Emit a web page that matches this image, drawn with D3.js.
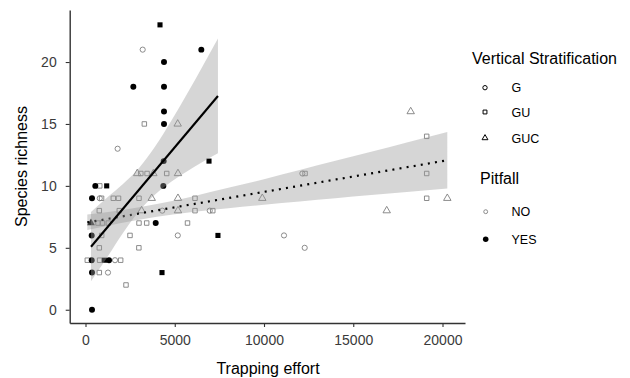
<!DOCTYPE html>
<html><head><meta charset="utf-8">
<script src="https://cdn.jsdelivr.net/npm/d3@7"></script>
<style>body{margin:0;background:#fff}text{font-family:"Liberation Sans",Arial,sans-serif}</style>
</head><body><svg id="c" width="630" height="378"></svg>
<script>
// ---- data ----
const effort   = [3204,1800,800,4300,5170,1653,1260,11120,12280,12150,6960,
                  3296,4550,3100,3450,800,900,1557,1850,2997,6134,773,1893,6134,7130,700,950,1280,2997,3428,5715,907,2493,773,2990,101,790,1970,773,2269,12300,19114,19114,19114,
                  5165,2900,3800,5180,3709,5180,9905,3140,5180,18218,20269,16874,
                  6488,4398,2680,4398,4398,4398,4380,4360,550,364,3933,347,347,1317,364,364,
                  4174,6919,1187,7420,1060,4286,
                  308];
const richness = [21,13,9,8,6,4,3,6,5,11,8,
                  15,11,11,11,10,9,9,9,9,9,8,8,8,8,7,7,7,7,7,7,6,6,5,5,4,4,4,3,2,11,14,11,9,
                  15,11,11,11,9,9,9,8,8,16,9,8,
                  21,20,18,18,16,15,12,10,10,9,7,6,4,4,3,0,
                  23,12,10,6,4,3,
                  7];
const strat    = [].concat(Array(11).fill("G"), Array(33).fill("GU"), Array(12).fill("GUC"),
                           Array(16).fill("G"), Array(6).fill("GU"), Array(1).fill("GUC"));
const pitfall  = [].concat(Array(56).fill("NO"), Array(23).fill("YES"));

const xTicks = [0, 5000, 10000, 15000, 20000];
const yTicks = [0, 5, 10, 15, 20];
const stratLevels = ["G", "GU", "GUC"];
const pitLevels = ["NO", "YES"];

// fitted lines and confidence bands
const noFitX = [101, 20269], noFitY = [7.05, 12.07];
const noBandX  = [101, 2000, 4000, 6000, 8000, 10000, 12000, 14000, 16000, 18000, 20269];
const noBandLo = [6.43, 7.00, 7.50, 7.89, 8.20, 8.48, 8.74, 9.00, 9.26, 9.51, 9.78];
const noBandHi = [7.68, 8.04, 8.54, 9.15, 9.84, 10.54, 11.28, 12.02, 12.76, 13.51, 14.36];
const yesFitX = [308, 7420], yesFitY = [5.09, 17.26];
const yesBandX  = [308, 1200, 2100, 3000, 3900, 4800, 5700, 6600, 7420];
const yesBandLo = [2.3, 4.2, 6.2, 7.95, 9.3, 10.33, 11.19, 11.96, 12.63];
const yesBandHi = [7.9, 9.05, 10.15, 11.45, 13.17, 15.23, 17.45, 19.76, 21.89];

// ---- drawing ----
const svg = d3.select("#c");
const x = d3.scaleLinear().domain([-885, 21260]).range([69.7, 465]);
const y = d3.scaleLinear().domain([-1.07, 24.2]).range([323, 10]);
const symType = d3.scaleOrdinal().domain(stratLevels).range([d3.symbolCircle, d3.symbolSquare, d3.symbolTriangle]);
const colorS = d3.scaleOrdinal().domain(pitLevels).range(["#7f7f7f", "#000000"]);

const pts = effort.map((e,i)=>({e, r: richness[i], s: strat[i], p: pitfall[i]}));

const sizeFor = (s,p) => {
  if (p === "YES") return s === "G" ? 28 : (s === "GU" ? 26 : 26);
  return s === "G" ? 21 : (s === "GU" ? 20 : 24);
};

svg.append("g").selectAll("path").data(pts).join("path")
  .attr("transform", d => `translate(${x(d.e)},${y(d.r)})`)
  .attr("d", d => d3.symbol(symType(d.s), sizeFor(d.s,d.p))())
  .attr("fill", d => d.p === "YES" ? "#000" : "none")
  .attr("stroke", d => d.p === "YES" ? "none" : colorS(d.p))
  .attr("stroke-width", 0.9);

const area = (X,Lo,Hi) => d3.area().curve(d3.curveMonotoneX)
  .x((d,i)=>x(X[i])).y0((d,i)=>y(Lo[i])).y1((d,i)=>y(Hi[i]))(X);
const line = (X,Y) => d3.line().x((d,i)=>x(X[i])).y((d,i)=>y(Y[i]))(X);

// NO group
svg.append("path").attr("d", area(noBandX,noBandLo,noBandHi)).attr("fill","#999").attr("fill-opacity",0.4);
svg.append("path").attr("d", line(noFitX,noFitY)).attr("stroke","#000").attr("stroke-width",2.2)
  .attr("stroke-dasharray","2,5.2").attr("fill","none");
// YES group
svg.append("path").attr("d", area(yesBandX,yesBandLo,yesBandHi)).attr("fill","#999").attr("fill-opacity",0.4);
svg.append("path").attr("d", line(yesFitX,yesFitY)).attr("stroke","#000").attr("stroke-width",2.1).attr("fill","none");

// axes
const gx = svg.append("g").attr("transform","translate(0,323)")
  .call(d3.axisBottom(x).tickValues(xTicks).tickFormat(d3.format("d")).tickSize(4).tickSizeOuter(0).tickPadding(8.5));
const gy = svg.append("g").attr("transform","translate(69.7,0)")
  .call(d3.axisLeft(y).tickValues(yTicks).tickSize(4).tickSizeOuter(0).tickPadding(9));
[gx,gy].forEach(g=>{
  g.select(".domain").attr("stroke","#333").attr("stroke-width",1.4);
  g.selectAll(".tick line").attr("stroke","#333").attr("stroke-width",1.1);
  g.selectAll(".tick text").attr("fill","#3a3a3a").attr("font-size",14).attr("font-family","Liberation Sans, Arial, sans-serif");
});

svg.append("text").attr("x",268).attr("y",373.5).attr("text-anchor","middle")
  .attr("font-size",16).attr("fill","#000").text("Trapping effort");
svg.append("text").attr("transform","translate(26.5,166.5) rotate(-90)").attr("text-anchor","middle")
  .attr("font-size",16).attr("fill","#000").text("Species richness");

// legends
const lg = svg.append("g");
lg.append("text").attr("x",472).attr("y",64).attr("font-size",16).text("Vertical Stratification");
const stratY = [87.7, 112, 138];
stratLevels.forEach((s,i)=>{
  lg.append("path").attr("transform",`translate(485,${stratY[i]})`)
    .attr("d", d3.symbol(symType(s), 15)()).attr("fill","none").attr("stroke","#000").attr("stroke-width",1);
  lg.append("text").attr("x",511.5).attr("y",stratY[i]+4.5).attr("font-size",12.5).text(s);
});
lg.append("text").attr("x",480).attr("y",184).attr("font-size",16).text("Pitfall");
const pitY = [211.7, 239.3];
pitLevels.forEach((p,i)=>{
  lg.append("path").attr("transform",`translate(485.7,${pitY[i]})`)
    .attr("d", d3.symbol(d3.symbolCircle, p==="YES"?24:12)())
    .attr("fill", p==="YES"?"#000":"none").attr("stroke", p==="YES"?"none":"#7f7f7f").attr("stroke-width",0.9);
  lg.append("text").attr("x",511.5).attr("y",pitY[i]+4.5).attr("font-size",12.5).text(p);
});
</script>
</body></html>
